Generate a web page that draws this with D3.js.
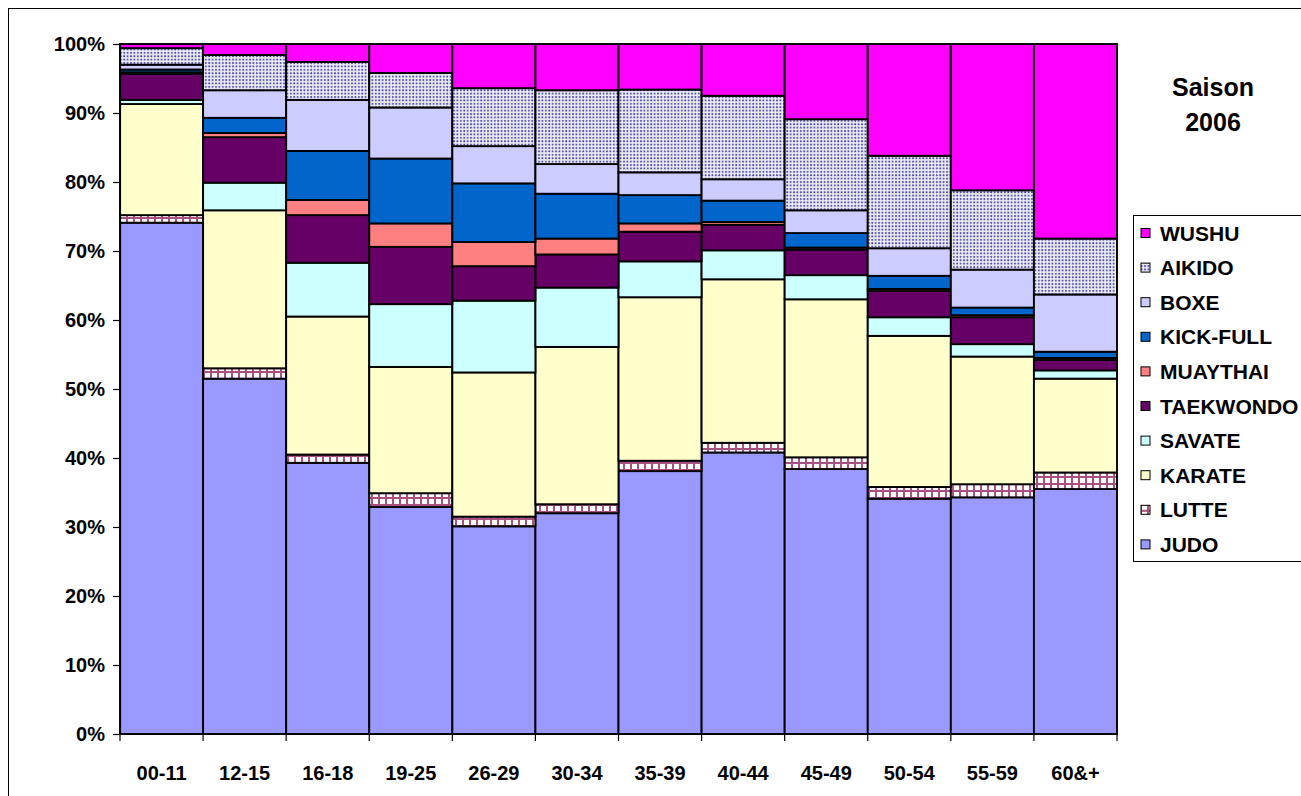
<!DOCTYPE html>
<html>
<head>
<meta charset="utf-8">
<script src="https://cdn.jsdelivr.net/npm/d3@7"></script>
<style>
  body { margin: 0; background: #fff; }
  svg text { font-family: "Liberation Sans", Arial, sans-serif; font-weight: bold; fill: #000; }
</style>
</head>
<body>
<div id="chart"></div>
<script>
// age groups
const categories = ["00-11", "12-15", "16-18", "19-25", "26-29", "30-34", "35-39", "40-44", "45-49", "50-54", "55-59", "60&+"];
// sports, bottom to top of each column
const sports = ["JUDO", "LUTTE", "KARATE", "SAVATE", "TAEKWONDO", "MUAYTHAI", "KICK-FULL", "BOXE", "AIKIDO", "WUSHU"];

// share of each sport per age group (%)
const judo      = [74.1, 51.5, 39.3, 32.9, 30.1, 32.0, 38.1, 40.8, 38.4, 34.1, 34.3, 35.5];
const lutte     = [ 1.1,  1.5,  1.2,  2.0,  1.4,  1.3,  1.5,  1.4,  1.7,  1.7,  1.9,  2.4];
const karate    = [16.1, 22.9, 20.0, 18.3, 20.9, 22.8, 23.7, 23.7, 22.9, 21.9, 18.5, 13.6];
const savate    = [ 0.6,  4.0,  7.8,  9.1, 10.4,  8.6,  5.2,  4.2,  3.5,  2.7,  1.8,  1.2];
const taekwondo = [ 3.8,  6.6,  6.9,  8.3,  5.0,  4.8,  4.3,  3.7,  3.7,  3.8,  3.9,  1.5];
const muaythai  = [ 0.2,  0.6,  2.2,  3.4,  3.5,  2.3,  1.2,  0.4,  0.3,  0.3,  0.3,  0.3];
const kickfull  = [ 0.4,  2.2,  7.1,  9.4,  8.5,  6.5,  4.1,  3.1,  2.1,  1.9,  1.1,  0.9];
const boxe      = [ 0.7,  4.0,  7.4,  7.4,  5.4,  4.3,  3.3,  3.1,  3.3,  4.0,  5.5,  8.3];
const aikido    = [ 2.4,  5.1,  5.5,  5.0,  8.4, 10.7, 12.0, 12.1, 13.2, 13.4, 11.5,  8.1];
const wushu     = [ 0.6,  1.6,  2.6,  4.2,  6.4,  6.7,  6.6,  7.5, 10.9, 16.2, 21.2, 28.2];

const yTicks = [0, 10, 20, 30, 40, 50, 60, 70, 80, 90, 100];
const titleLines = ["Saison", "2006"];

const series = [judo, lutte, karate, savate, taekwondo, muaythai, kickfull, boxe, aikido, wushu];
const table = categories.map(function(c, i) {
    let row = {cat: c};
    sports.forEach(function(s, k) { row[s] = series[k][i]; });
    return row;
});

const W = 1301, H = 796;
const margin = {top: 44, left: 120, right: 184, bottom: 62};

const svg = d3.select("#chart").append("svg")
    .attr("width", W)
    .attr("height", H);

// fill patterns
const defs = svg.append("defs");

const pAik = defs.append("pattern")
    .attr("id", "pat-aikido")
    .attr("patternUnits", "userSpaceOnUse")
    .attr("width", 3.4).attr("height", 3.4);
pAik.append("rect").attr("width", 3.4).attr("height", 3.4).attr("fill", "#ececf6");
pAik.append("rect").attr("x", 1).attr("y", 1).attr("width", 1.7).attr("height", 1.7).attr("fill", "#3c3c9c");

const pLut = defs.append("pattern")
    .attr("id", "pat-lutte")
    .attr("patternUnits", "userSpaceOnUse")
    .attr("width", 7).attr("height", 7);
pLut.append("rect").attr("width", 7).attr("height", 7).attr("fill", "#ffffff");
pLut.append("rect").attr("width", 7).attr("height", 2).attr("fill", "#a8507f");
pLut.append("rect").attr("width", 2).attr("height", 7).attr("fill", "#a8507f");

const colors = {
    "JUDO": "#9999ff",
    "LUTTE": "url(#pat-lutte)",
    "KARATE": "#ffffcc",
    "SAVATE": "#ccffff",
    "TAEKWONDO": "#660066",
    "MUAYTHAI": "#ff8080",
    "KICK-FULL": "#0066cc",
    "BOXE": "#ccccff",
    "AIKIDO": "url(#pat-aikido)",
    "WUSHU": "#ff00ff"
};

// outer frame
svg.append("rect")
    .attr("x", 8.5).attr("y", 8.5)
    .attr("width", 1400).attr("height", 900)
    .attr("fill", "none")
    .attr("stroke", "#000")
    .attr("stroke-width", 1);

const x = d3.scaleBand()
    .domain(categories)
    .range([margin.left, W - margin.right])
    .padding(0);

const y = d3.scaleLinear()
    .domain([0, 100])
    .range([H - margin.bottom, margin.top]);

const stacked = d3.stack().keys(sports)(table);

const g = svg.append("g");

g.selectAll("g.layer")
    .data(stacked)
    .enter().append("g")
    .attr("class", "layer")
    .attr("fill", function(d) { return colors[d.key]; })
    .selectAll("rect")
    .data(function(d) { return d; })
    .enter().append("rect")
    .attr("x", function(d) { return x(d.data.cat); })
    .attr("width", x.bandwidth())
    .attr("y", function(d) { return y(d[1]); })
    .attr("height", function(d) { return y(d[0]) - y(d[1]); })
    .attr("stroke", "#000")
    .attr("stroke-width", 1.9);

// y axis
const yAxis = svg.append("g")
    .attr("transform", "translate(" + margin.left + ",0)")
    .call(d3.axisLeft(y)
        .tickValues(yTicks)
        .tickSize(7)
        .tickSizeOuter(0)
        .tickPadding(8)
        .tickFormat(function(d) { return d + "%"; }));
yAxis.select(".domain").attr("stroke", "#000").attr("stroke-width", 1.2);
yAxis.selectAll(".tick line").attr("stroke", "#000").attr("stroke-width", 1.2);
yAxis.selectAll("text")
    .style("font-size", "20px")
    .style("font-family", "'Liberation Sans', Arial, sans-serif")
    .style("font-weight", "bold")
    .attr("fill", "#000");

// x axis: labels centred, ticks on the column boundaries
const xAxis = svg.append("g")
    .attr("transform", "translate(0," + y(0) + ")")
    .call(d3.axisBottom(x).tickSize(0).tickPadding(32));
xAxis.select(".domain").attr("stroke", "#000").attr("stroke-width", 1.2);
xAxis.selectAll("text")
    .style("font-size", "20px")
    .style("font-family", "'Liberation Sans', Arial, sans-serif")
    .style("font-weight", "bold")
    .attr("fill", "#000");

const bounds = categories.map(function(c) { return x(c); }).concat([x.range()[1]]);
xAxis.selectAll("line.bound")
    .data(bounds)
    .enter().append("line")
    .attr("class", "bound")
    .attr("x1", function(d) { return d; })
    .attr("x2", function(d) { return d; })
    .attr("y1", 0).attr("y2", 7)
    .attr("stroke", "#000")
    .attr("stroke-width", 1.2);

// title
svg.selectAll("text.title")
    .data(titleLines)
    .enter().append("text")
    .attr("class", "title")
    .attr("x", 1213)
    .attr("y", function(d, i) { return 96 + i * 35; })
    .attr("text-anchor", "middle")
    .style("font-size", "25px")
    .text(function(d) { return d; });

// legend
const legendKeys = sports.slice().reverse();
const lg = svg.append("g").attr("transform", "translate(1133,215)");
lg.append("rect")
    .attr("x", 0.5).attr("y", 0.5)
    .attr("width", 300).attr("height", 346)
    .attr("fill", "#fff")
    .attr("stroke", "#000")
    .attr("stroke-width", 1);

const item = lg.selectAll("g.item")
    .data(legendKeys)
    .enter().append("g")
    .attr("class", "item")
    .attr("transform", function(d, i) { return "translate(0," + (18 + i * 34.6) + ")"; });

item.append("rect")
    .attr("x", 8).attr("y", -4.5)
    .attr("width", 9).attr("height", 9)
    .attr("fill", function(d) { return colors[d]; })
    .attr("stroke", "#000")
    .attr("stroke-width", 1);

item.append("text")
    .attr("x", 27)
    .attr("dy", "0.36em")
    .style("font-size", "21px")
    .text(function(d) { return d; });
</script>
</body>
</html>
